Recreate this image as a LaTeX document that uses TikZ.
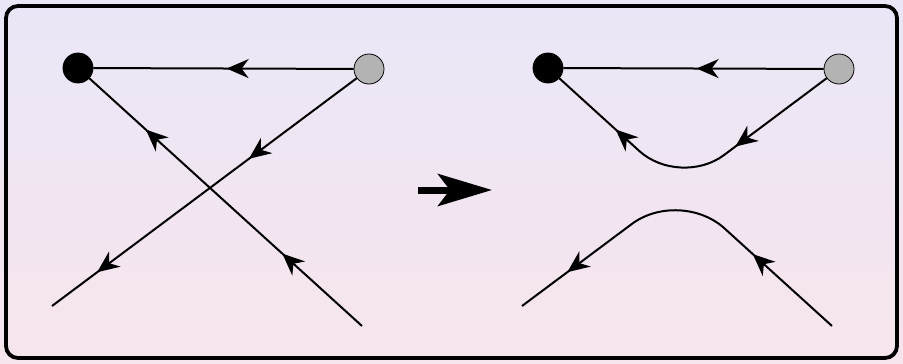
\documentclass[tikz,border=0pt]{standalone}
\usetikzlibrary{arrows.meta,decorations.markings}
\definecolor{bgtop}{RGB}{234,230,247}
\definecolor{bgbot}{RGB}{247,229,237}
\definecolor{nodegray}{RGB}{179,179,179}
\begin{document}
\begin{tikzpicture}[x=1pt,y=-1pt,
  edge/.style={line width=2pt},
  vtx/.style={circle,minimum size=30pt,inner sep=0pt,draw=black,line width=0.8pt},
  blackvtx/.style={vtx,fill=black},
  grayvtx/.style={vtx,fill=nodegray},
  arrowat/.style={postaction={decorate,decoration={markings,mark=at position #1 with {\arrow{Stealth[length=22pt,width=19pt,inset=7pt]}}}}},
  bigarrow/.style={line width=7pt,-{Stealth[length=54pt,width=32pt,inset=12pt]}}
]
\useasboundingbox (0,0) rectangle (903,364);
\shade[top color=bgtop,bottom color=bgbot] (0,0) rectangle (903,364);
\draw[line width=3.8pt,rounded corners=12pt] (6,6) rectangle (897,358);

% left diagram
\node[blackvtx] (bL) at (78,68) {};
\node[grayvtx] (gL) at (369,69) {};
\coordinate (a1) at (362,326);
\coordinate (a2) at (52,306);
\draw[edge,arrowat=127pt] (gL) -- (bL);
\draw[edge,arrowat=107.6pt,arrowat=292pt] (a1) -- (bL);
\draw[edge,arrowat=134.5pt,arrowat=324pt] (gL) -- (a2);

% big arrow
\coordinate (s1) at (418,190);
\coordinate (s2) at (492,190);
\draw[bigarrow] (s1) -- (s2);

% right diagram
\node[blackvtx] (bR) at (548,68) {};
\node[grayvtx] (gR) at (839,69) {};
\coordinate (xR) at (680,188);
\coordinate (r1) at (832,326);
\coordinate (r2) at (522,306);
\draw[edge,arrowat=127pt] (gR) -- (bR);
\draw[edge,rounded corners=55pt,arrowat=114pt,arrowat=-76pt] (gR) -- (xR) -- (bR);
\draw[edge,rounded corners=60pt,arrowat=107pt,arrowat=-56.6pt] (r1) -- (xR) -- (r2);
\end{tikzpicture}
\end{document}
